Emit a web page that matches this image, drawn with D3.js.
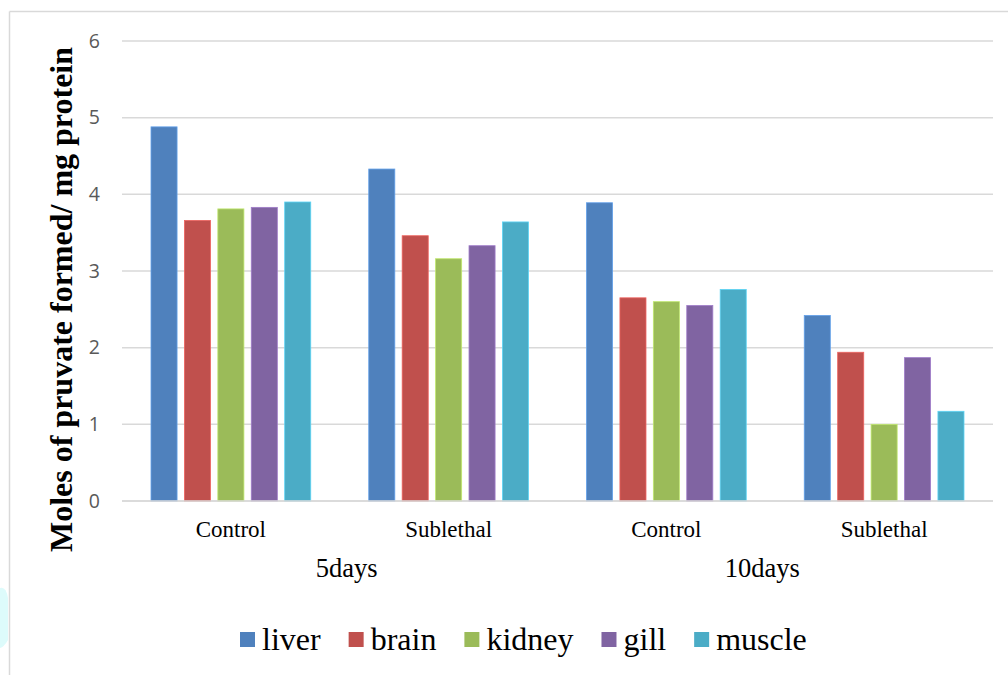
<!DOCTYPE html>
<html>
<head>
<meta charset="utf-8">
<script src="https://cdn.jsdelivr.net/npm/d3@7/dist/d3.min.js"></script>
<style>
  html, body { margin: 0; padding: 0; background: #fff; }
  svg { display: block; }
</style>
</head>
<body>
<svg id="chart" width="1008" height="675"></svg>
<script>
// Enzyme activity by tissue, grouped by exposure and duration
const tissues = ["liver", "brain", "kidney", "gill", "muscle"];
const groups = ["Control", "Sublethal", "Control", "Sublethal"];
const periods = ["5days", "10days"];
const liver  = [4.88, 4.33, 3.89, 2.42];
const brain  = [3.66, 3.46, 2.65, 1.94];
const kidney = [3.81, 3.16, 2.60, 1.00];
const gill   = [3.83, 3.33, 2.55, 1.87];
const muscle = [3.90, 3.64, 2.76, 1.17];
const yTicks = [0, 1, 2, 3, 4, 5, 6];
const colors = ["#4F81BD", "#C0504D", "#9BBB59", "#8064A2", "#4BACC6"];

const series = [liver, brain, kidney, gill, muscle];
const serif = "'Liberation Serif', 'Times New Roman', serif";

const svg = d3.select("#chart");

// faint frame around the plot area
svg.append("line").attr("x1", 9.5).attr("x2", 1008).attr("y1", 11.5).attr("y2", 11.5)
  .attr("stroke", "#d9d9d9").attr("stroke-width", 1.5);
svg.append("line").attr("x1", 9.5).attr("x2", 9.5).attr("y1", 11.5).attr("y2", 675)
  .attr("stroke", "#d9d9d9").attr("stroke-width", 1.5);
// pale cyan mark at the left edge
svg.append("path")
  .attr("d", "M0,588 Q6,586 8,598 L8,640 Q4,647 0,648 Z")
  .attr("fill", "#ddfbfb");

const plotLeft = 122, plotRight = 993, plotTop = 41, plotBottom = 501;

const y = d3.scaleLinear().domain([0, 6]).range([plotBottom, plotTop]);
const x0 = d3.scaleBand().domain(d3.range(groups.length)).range([plotLeft, plotRight]).paddingInner(0).paddingOuter(0);
const x1 = d3.scaleBand().domain(tissues).range([29, x0.bandwidth() - 29]).paddingInner(0.22).paddingOuter(0.0);

// gridlines
svg.append("g")
  .selectAll("line")
  .data(yTicks)
  .join("line")
  .attr("x1", plotLeft).attr("x2", plotRight)
  .attr("y1", d => y(d)).attr("y2", d => y(d))
  .attr("stroke", "#d9d9d9").attr("stroke-width", 1.5);

// y axis tick labels
const yAxis = d3.axisLeft(y).tickValues(yTicks).tickSize(0).tickPadding(0).tickFormat(d3.format("d"));
const ya = svg.append("g").attr("transform", `translate(100,0)`).call(yAxis);
ya.select(".domain").remove();
ya.selectAll("text")
  .attr("font-family", "'Open Sans', 'Liberation Sans', sans-serif")
  .attr("font-size", 19.5)
  .attr("fill", "#595959");

// bars
const gGroups = svg.append("g")
  .selectAll("g")
  .data(groups.map((g, i) => i))
  .join("g")
  .attr("transform", i => `translate(${x0(i)},0)`);

gGroups.selectAll("rect")
  .data(i => tissues.map((t, k) => ({ t, k, v: series[k][i] })))
  .join("rect")
  .attr("x", d => x1(d.t))
  .attr("width", x1.bandwidth())
  .attr("y", d => y(d.v))
  .attr("height", d => y(0) - y(d.v))
  .attr("fill", d => colors[d.k])
  .attr("stroke", d => d3.color(colors[d.k]).brighter(0.6))
  .attr("stroke-width", 0.8);

// baseline
svg.append("line").attr("x1", plotLeft).attr("x2", plotRight).attr("y1", y(0)).attr("y2", y(0))
  .attr("stroke", "#d9d9d9").attr("stroke-width", 1.5);

// category labels
svg.append("g")
  .selectAll("text")
  .data(groups)
  .join("text")
  .attr("x", (d, i) => x0(i) + x0.bandwidth() / 2)
  .attr("y", 536.5)
  .attr("text-anchor", "middle")
  .attr("font-family", serif)
  .attr("font-size", 23)
  .attr("fill", "#000")
  .text(d => d);

// period labels (slightly nudged as in the original layout)
const periodNudge = [7, -13];
svg.append("g")
  .selectAll("text")
  .data(periods)
  .join("text")
  .attr("x", (d, i) => x0(i * 2) + x0.bandwidth() + periodNudge[i])
  .attr("y", 576.5)
  .attr("text-anchor", "middle")
  .attr("font-family", serif)
  .attr("font-size", 26.5)
  .attr("fill", "#000")
  .text(d => d);

// y axis title
svg.append("text")
  .attr("transform", `translate(72,299.5) rotate(-90)`)
  .attr("text-anchor", "middle")
  .attr("font-family", serif)
  .attr("font-weight", "bold")
  .attr("font-size", 32)
  .attr("fill", "#000")
  .text("Moles of pruvate formed/ mg protein");

// legend: square, label, then gap to next entry
const legend = svg.append("g").attr("transform", "translate(240,0)");
let cursor = 0;
tissues.forEach((t, i) => {
  const item = legend.append("g").attr("transform", `translate(${cursor},0)`);
  item.append("rect")
    .attr("x", 0).attr("y", 632)
    .attr("width", 15).attr("height", 15)
    .attr("fill", colors[i]);
  const txt = item.append("text")
    .attr("x", 22).attr("y", 649.5)
    .attr("font-family", serif)
    .attr("font-size", 32)
    .attr("fill", "#000")
    .text(t);
  cursor += 22 + txt.node().getComputedTextLength() + 28;
});
</script>
</body>
</html>
